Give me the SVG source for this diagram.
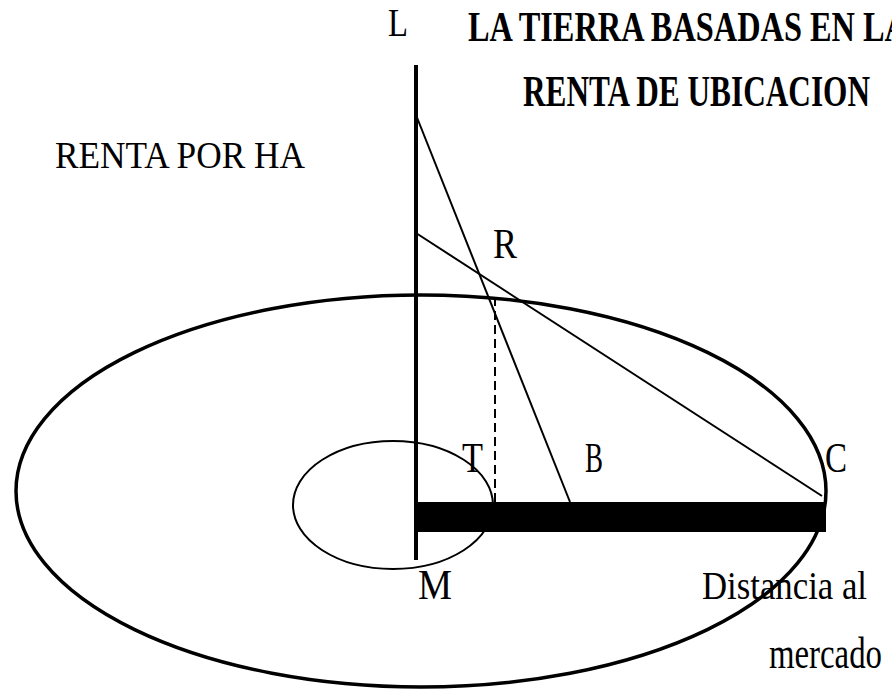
<svg xmlns="http://www.w3.org/2000/svg" width="892" height="691" viewBox="0 0 892 691">
<style>
.t{font-family:"Liberation Serif","Times New Roman",serif;fill:#000}
.b{font-weight:bold}
.ln{stroke:#000;fill:none}
</style>
<rect width="892" height="691" fill="#fff"/>
<g id="zones">
<ellipse id="outer-zone" cx="421" cy="491" rx="405" ry="196" class="ln" stroke-width="3.5"/>
<ellipse id="inner-zone" cx="393" cy="505" rx="100" ry="64" class="ln" stroke-width="2"/>
</g>
<g id="axes">
<line x1="416" y1="65" x2="416" y2="560" class="ln" stroke-width="4"/>
<rect id="distance-bar" x="416" y="502" width="410" height="30" fill="#000"/>
</g>
<g id="connectors">
<line x1="416" y1="115" x2="570" y2="502" class="ln" stroke-width="2"/>
<line x1="416" y1="233" x2="822" y2="496" class="ln" stroke-width="2"/>
<line x1="495" y1="297" x2="495" y2="502" class="ln" stroke-width="2" stroke-dasharray="9,5"/>
</g>
<g id="title">
<text class="t b" transform="translate(468,41) scale(1,1.33)" font-size="32" textLength="440" lengthAdjust="spacingAndGlyphs">LA TIERRA BASADAS EN LA</text>
<text class="t b" transform="translate(523,106) scale(1,1.4)" font-size="31" textLength="347" lengthAdjust="spacingAndGlyphs">RENTA DE UBICACION</text>
</g>
<g id="labels">
<text class="t" transform="translate(388,36) scale(1,1.19)" font-size="33" textLength="20" lengthAdjust="spacingAndGlyphs">L</text>
<text class="t" transform="translate(55,168) scale(1,1.08)" font-size="35" textLength="250" lengthAdjust="spacingAndGlyphs">RENTA POR HA</text>
<text class="t" transform="translate(493,258) scale(1,1.18)" font-size="36" textLength="24" lengthAdjust="spacingAndGlyphs">R</text>
<text class="t" transform="translate(462,472) scale(1,1.18)" font-size="36" textLength="21" lengthAdjust="spacingAndGlyphs">T</text>
<text class="t" transform="translate(585,472) scale(1,1.18)" font-size="36" textLength="18" lengthAdjust="spacingAndGlyphs">B</text>
<text class="t" transform="translate(825,472) scale(1,1.18)" font-size="36" textLength="22" lengthAdjust="spacingAndGlyphs">C</text>
<text class="t" transform="translate(418,599) scale(1,1.15)" font-size="36" textLength="34" lengthAdjust="spacingAndGlyphs">M</text>
<text class="t" transform="translate(702,599) scale(1,1.13)" font-size="35" textLength="165" lengthAdjust="spacingAndGlyphs">Distancia al</text>
<text class="t" transform="translate(769,668) scale(1,1.35)" font-size="33" textLength="113" lengthAdjust="spacingAndGlyphs">mercado</text>
</g>
</svg>
